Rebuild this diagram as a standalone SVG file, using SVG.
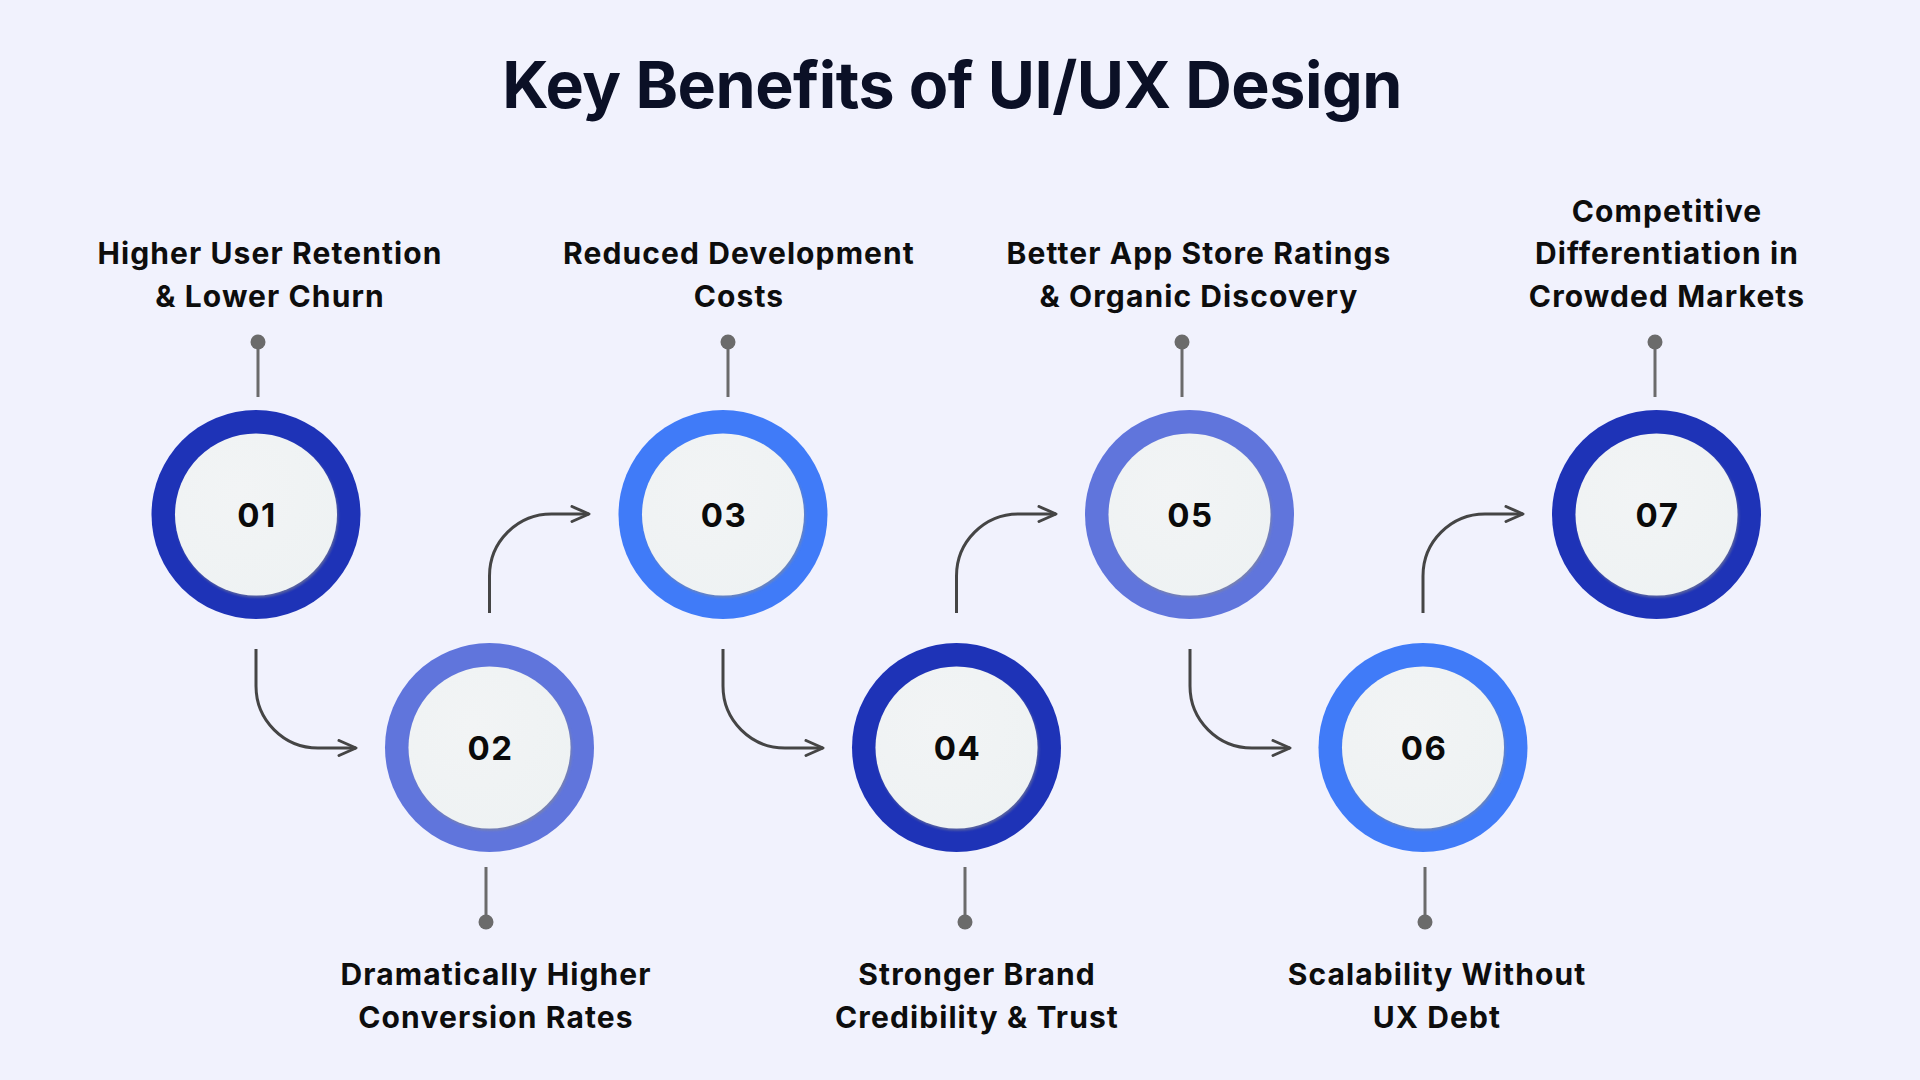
<svg xmlns="http://www.w3.org/2000/svg" width="1920" height="1080" viewBox="0 0 1920 1080">
  <style>
    .title { font-family: Inter, "Noto Sans", "Liberation Sans", sans-serif; font-weight: 700; font-size: 64.5px; fill: #0b1026; letter-spacing: -0.5px; }
    .lbl { font-family: Inter, "Noto Sans", "Liberation Sans", sans-serif; font-weight: 700; font-size: 30px; fill: #0d0d0d; text-anchor: middle; letter-spacing: 1.1px; }
    .num { font-family: Inter, "Noto Sans", "Liberation Sans", sans-serif; font-weight: 700; font-size: 33px; fill: #0a0a0a; text-anchor: middle; letter-spacing: 1.5px; }
    .ring-dark { fill: #1e33b7; }
    .ring-mid { fill: #6075dc; }
    .ring-bright { fill: #407bf8; }
    .inner { fill: url(#innerGrad); filter: url(#innerShadow); }
    .pin { stroke: #6b6b6b; stroke-width: 3; }
    .dot { fill: #6b6b6b; }
    .conn { fill: none; stroke: #454545; stroke-width: 3; marker-end: url(#arrow); }
  </style>
  <defs>
    <radialGradient id="innerGrad" cx="0.4" cy="0.35" r="0.75">
      <stop offset="0" stop-color="#f2f4f5"/>
      <stop offset="1" stop-color="#eef2f3"/>
    </radialGradient>
    <filter id="innerShadow" x="-20%" y="-20%" width="140%" height="140%">
      <feDropShadow dx="1.2" dy="2" stdDeviation="1" flood-color="#8a8a8a" flood-opacity="0.55"/>
    </filter>
    <marker id="arrow" markerUnits="userSpaceOnUse" markerWidth="22" markerHeight="18" viewBox="0 0 22 18" refX="19" refY="9" orient="auto">
      <path d="M2,1.5 L19,9 L2,16.5" fill="none" stroke="#454545" stroke-width="3" stroke-linecap="round" stroke-linejoin="round"/>
    </marker>
  </defs>

  <rect x="0" y="0" width="1920" height="1080" fill="#f1f2fd"/>

  <text class="title" x="952" y="108" text-anchor="middle">Key Benefits of UI/UX Design</text>

  <g id="connectors">
    <path class="conn" d="M256,649 V686 A62,62 0 0 0 318,748 H356"/>
    <path class="conn" d="M489.5,613 V576 A62,62 0 0 1 551.5,514 H589"/>
    <path class="conn" d="M723,649 V686 A62,62 0 0 0 785,748 H823"/>
    <path class="conn" d="M956.5,613 V576 A62,62 0 0 1 1018.5,514 H1056"/>
    <path class="conn" d="M1190,649 V686 A62,62 0 0 0 1252,748 H1290"/>
    <path class="conn" d="M1423,613 V576 A62,62 0 0 1 1485,514 H1523"/>
  </g>

  <g id="node-01">
    <line class="pin" x1="258" y1="342" x2="258" y2="397"/>
    <circle class="dot" cx="258" cy="342" r="7.5"/>
    <circle class="ring-dark" cx="256" cy="514.5" r="104.5"/>
    <circle class="inner" cx="256" cy="514.5" r="81"/>
    <text class="num" x="257" y="526.5">01</text>
    <text class="lbl" x="270" y="264">Higher User Retention</text>
    <text class="lbl" x="270" y="307">&amp; Lower Churn</text>
  </g>

  <g id="node-02">
    <line class="pin" x1="486" y1="867" x2="486" y2="922"/>
    <circle class="dot" cx="486" cy="922" r="7.5"/>
    <circle class="ring-mid" cx="489.5" cy="747.5" r="104.5"/>
    <circle class="inner" cx="489.5" cy="747.5" r="81"/>
    <text class="num" x="490.5" y="759.5">02</text>
    <text class="lbl" x="496" y="985">Dramatically Higher</text>
    <text class="lbl" x="496" y="1028">Conversion Rates</text>
  </g>

  <g id="node-03">
    <line class="pin" x1="728" y1="342" x2="728" y2="397"/>
    <circle class="dot" cx="728" cy="342" r="7.5"/>
    <circle class="ring-bright" cx="723" cy="514.5" r="104.5"/>
    <circle class="inner" cx="723" cy="514.5" r="81"/>
    <text class="num" x="724" y="526.5">03</text>
    <text class="lbl" x="739" y="264">Reduced Development</text>
    <text class="lbl" x="739" y="307">Costs</text>
  </g>

  <g id="node-04">
    <line class="pin" x1="965" y1="867" x2="965" y2="922"/>
    <circle class="dot" cx="965" cy="922" r="7.5"/>
    <circle class="ring-dark" cx="956.5" cy="747.5" r="104.5"/>
    <circle class="inner" cx="956.5" cy="747.5" r="81"/>
    <text class="num" x="957.5" y="759.5">04</text>
    <text class="lbl" x="977" y="985">Stronger Brand</text>
    <text class="lbl" x="977" y="1028">Credibility &amp; Trust</text>
  </g>

  <g id="node-05">
    <line class="pin" x1="1182" y1="342" x2="1182" y2="397"/>
    <circle class="dot" cx="1182" cy="342" r="7.5"/>
    <circle class="ring-mid" cx="1189.5" cy="514.5" r="104.5"/>
    <circle class="inner" cx="1189.5" cy="514.5" r="81"/>
    <text class="num" x="1190.5" y="526.5">05</text>
    <text class="lbl" x="1199" y="264">Better App Store Ratings</text>
    <text class="lbl" x="1199" y="307">&amp; Organic Discovery</text>
  </g>

  <g id="node-06">
    <line class="pin" x1="1425" y1="867" x2="1425" y2="922"/>
    <circle class="dot" cx="1425" cy="922" r="7.5"/>
    <circle class="ring-bright" cx="1423" cy="747.5" r="104.5"/>
    <circle class="inner" cx="1423" cy="747.5" r="81"/>
    <text class="num" x="1424" y="759.5">06</text>
    <text class="lbl" x="1437" y="985">Scalability Without</text>
    <text class="lbl" x="1437" y="1028">UX Debt</text>
  </g>

  <g id="node-07">
    <line class="pin" x1="1655" y1="342" x2="1655" y2="397"/>
    <circle class="dot" cx="1655" cy="342" r="7.5"/>
    <circle class="ring-dark" cx="1656.5" cy="514.5" r="104.5"/>
    <circle class="inner" cx="1656.5" cy="514.5" r="81"/>
    <text class="num" x="1657.5" y="526.5">07</text>
    <text class="lbl" x="1667" y="222">Competitive</text>
    <text class="lbl" x="1667" y="264">Differentiation in</text>
    <text class="lbl" x="1667" y="307">Crowded Markets</text>
  </g>
</svg>
